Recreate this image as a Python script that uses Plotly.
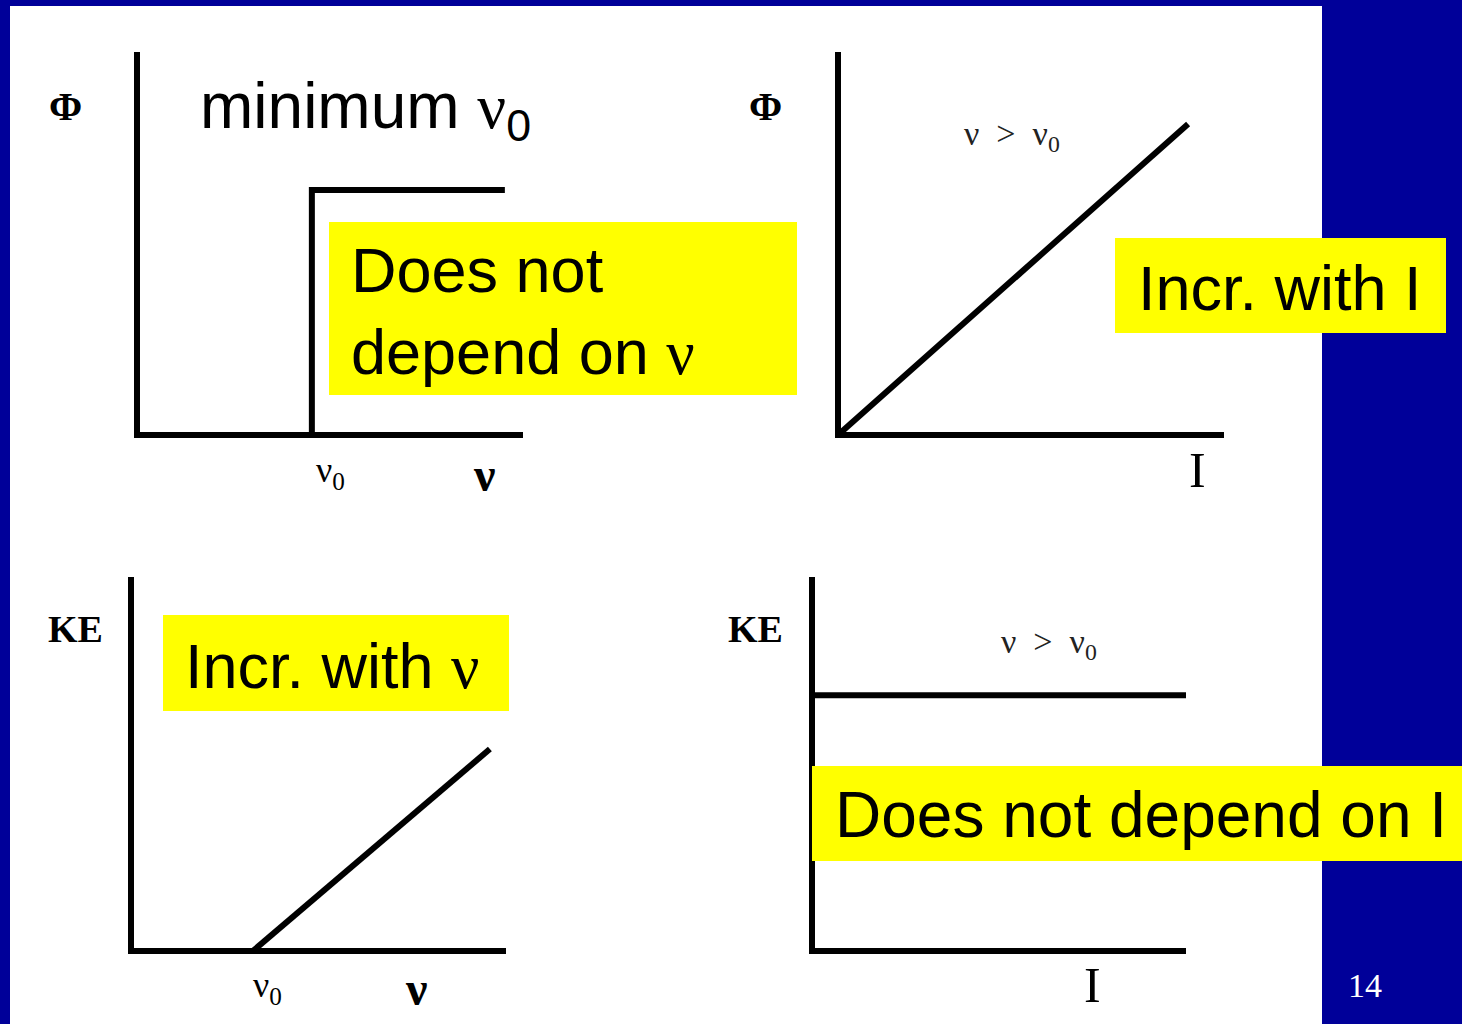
import plotly.graph_objects as go

W, H = 1462, 1024

# ---- data (arbitrary units, axes 0..10) ----
phi_nu_x = [4.53, 4.53, 9.53]
phi_nu_y = [0.0, 6.4, 6.4]

phi_I_x = [0.0, 9.07]
phi_I_y = [0.0, 8.12]

ke_nu_x = [3.25, 9.57]
ke_nu_y = [0.0, 5.4]

ke_I_x = [0.0, 10.0]
ke_I_y = [6.84, 6.84]

BLUE = "#000099"
SERIF = "Liberation Serif, Times New Roman, serif"
SANS = "Liberation Sans, Arial, sans-serif"
LW = 6


def px(x):
    return x / W


def py(y):
    return 1 - y / H


fig = go.Figure()

# subplot frames in pixels (axis-line centres): (left, right, top, bottom)
panels = [
    (137, 523, 52, 435),
    (838, 1224, 52, 435),
    (131, 506, 577, 951),
    (812, 1186, 577, 951),
]
series = [
    (phi_nu_x, phi_nu_y),
    (phi_I_x, phi_I_y),
    (ke_nu_x, ke_nu_y),
    (ke_I_x, ke_I_y),
]

half = LW / 2
for i, ((l, r, t, b), (xs, ys)) in enumerate(zip(panels, series), start=1):
    sfx = "" if i == 1 else str(i)
    fig.add_trace(go.Scatter(
        x=xs, y=ys, mode="lines",
        line=dict(color="black", width=LW),
        xaxis="x" + sfx, yaxis="y" + sfx,
        showlegend=False, cliponaxis=False, hoverinfo="skip",
    ))
    axcommon = dict(showgrid=False, zeroline=False, showticklabels=False,
                    ticks="", showline=True, linecolor="black", linewidth=LW,
                    fixedrange=True)
    xr = [half * 10 / (r - l), 10]
    yr = [half * 10 / (b - t), 10]
    fig.update_layout(**{
        "xaxis" + sfx: dict(domain=[px(l + half), px(r)], anchor="y" + sfx, range=xr, **axcommon),
        "yaxis" + sfx: dict(domain=[py(b - half), py(t)], anchor="x" + sfx, range=yr, **axcommon),
    })

shapes = [
    # white slide area
    dict(type="rect", xref="paper", yref="paper", x0=px(10), x1=px(1322),
         y0=py(1024), y1=py(6), fillcolor="white", line_width=0, layer="below"),
    # yellow boxes
    dict(type="rect", xref="paper", yref="paper", x0=px(329), x1=px(797),
         y0=py(395), y1=py(222), fillcolor="#ffff00", line_width=0, layer="above"),
    dict(type="rect", xref="paper", yref="paper", x0=px(1115), x1=px(1446),
         y0=py(333), y1=py(238), fillcolor="#ffff00", line_width=0, layer="above"),
    dict(type="rect", xref="paper", yref="paper", x0=px(163), x1=px(509),
         y0=py(711), y1=py(615), fillcolor="#ffff00", line_width=0, layer="above"),
    dict(type="rect", xref="paper", yref="paper", x0=px(812), x1=px(1462),
         y0=py(861), y1=py(766), fillcolor="#ffff00", line_width=0, layer="above"),
]


def ann(x, y, text, size, family=SERIF, color="black", xanchor="center", yanchor="middle"):
    return dict(x=px(x), y=py(y), xref="paper", yref="paper", text=text,
                showarrow=False, xanchor=xanchor, yanchor=yanchor,
                font=dict(size=size, family=family, color=color), align="left")


nu_serif = "<span style='font-family:Liberation Serif'>ν</span>"

annotations = [
    # axis labels
    ann(65, 106, "<b>Φ</b>", 40),
    ann(766, 106, "<b>Φ</b>", 40),
    ann(75, 629, "<b>KE</b>", 38),
    ann(755, 629, "<b>KE</b>", 38),
    ann(330, 472, "ν<sub>0</sub>", 36),
    ann(484, 474, "<b>ν</b>", 48),
    ann(1197, 470, "I", 50),
    ann(267, 987, "ν<sub>0</sub>", 36),
    ann(416, 988, "<b>ν</b>", 48),
    ann(1092, 985, "I", 50),
    # conditions
    ann(1012, 136, "ν  >  ν<sub>0</sub>", 34, color="#222222"),
    ann(1049, 644, "ν  >  ν<sub>0</sub>", 34, color="#222222"),
    # headline
    ann(198, 110, "minimum " + "<span style='font-family:Liberation Serif'>ν</span><sub>0</sub>", 64,
        family=SANS, xanchor="left"),
    # yellow box texts
    ann(349, 311, "Does not<br>depend on " + nu_serif, 63, family=SANS, xanchor="left"),
    ann(1136, 288, "Incr. with I", 63, family=SANS, xanchor="left"),
    ann(183, 666, "Incr. with " + nu_serif, 63, family=SANS, xanchor="left"),
    ann(833, 815, "Does not depend on I", 64, family=SANS, xanchor="left"),
    # slide number
    ann(1365, 985, "14", 34, color="white"),
]

fig.update_layout(
    width=W, height=H,
    margin=dict(l=0, r=0, t=0, b=0),
    paper_bgcolor=BLUE,
    plot_bgcolor="rgba(0,0,0,0)",
    shapes=shapes,
    annotations=annotations,
    showlegend=False,
)

fig.write_html("out.html", config={"displayModeBar": False},
               post_script="document.body.style.margin='0px';document.body.style.padding='0px';")
